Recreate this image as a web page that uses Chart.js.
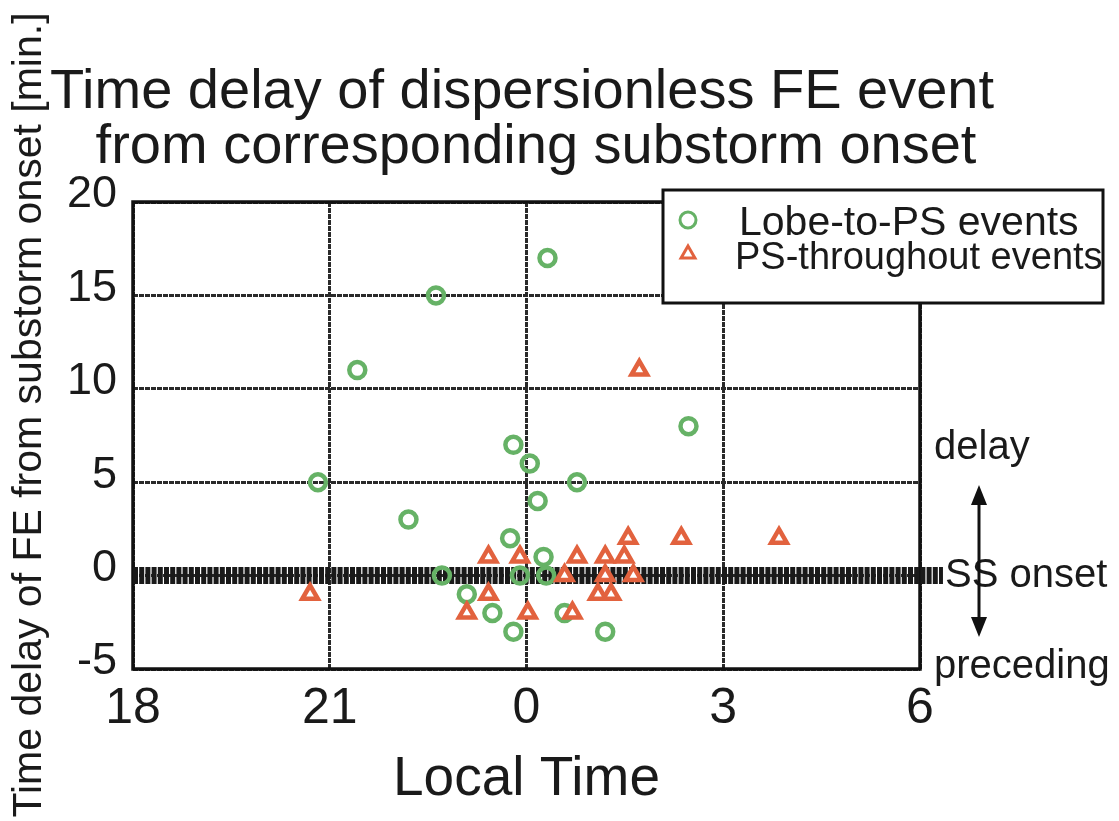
<!DOCTYPE html>
<html>
<head>
<meta charset="utf-8">
<script src="https://cdn.jsdelivr.net/npm/chart.js@4/dist/chart.umd.min.js"></script>
<style>
  html, body { margin: 0; padding: 0; background: #fff; }
  #fe { display: block; }
</style>
</head>
<body>
<canvas id="fe" width="1119" height="821"></canvas>
<script>
// local time in hours (24+ = after midnight), delay in minutes
var lobeLT    = [22.62, 21.42, 24.32, 26.47, 20.82, 22.2, 23.8, 24.05, 24.77, 24.17, 23.75, 24.26, 22.71, 23.9, 24.3, 23.09, 23.48, 24.58, 23.8, 25.2];
var lobeDelay = [15, 11, 17, 8, 5, 3, 7, 6, 5, 4, 2, 1, 0, 0, 0, -1, -2, -2, -3, -3];

var psLT    = [25.72, 20.7, 23.42, 23.9, 24.77, 25.2, 25.49, 25.55, 26.36, 27.85, 24.58, 25.2, 25.63, 23.42, 25.09, 25.29, 23.09, 24.02, 24.7];
var psDelay = [11, -1, 1, 1, 1, 1, 1, 2, 2, 2, 0, 0, 0, -1, -1, -1, -2, -2, -2];

var onsetLT = [18, 30.35];
var onsetDelay = [0, 0];

var xTicks = [18, 21, 24, 27, 30];
var yTicks = [-5, 0, 5, 10, 15, 20];

var titleLines = ['Time delay of dispersionless FE event', 'from corresponding substorm onset'];
var yTitle = 'Time delay of FE from substorm onset [min.]';
var seriesNames = ['Lobe-to-PS events', 'PS-throughout events'];

function pts(xs, ys) {
  return xs.map(function (x, i) { return { x: x, y: ys[i] }; });
}

var FONT = '"Liberation Sans", Arial, sans-serif';
var GREEN = 'rgb(102, 178, 102)';
var RED = 'rgb(226, 98, 62)';

var extras = {
  id: 'extras',
  beforeDatasetsDraw: function (chart) {
    var ctx = chart.ctx, a = chart.chartArea;
    ctx.save();
    ctx.strokeStyle = '#111';
    ctx.lineWidth = 3.5;
    ctx.strokeRect(a.left, a.top, a.right - a.left, a.bottom - a.top);
    ctx.restore();
  },
  afterDraw: function (chart) {
    var ctx = chart.ctx;
    ctx.save();
    ctx.fillStyle = '#1a1a1a';
    ctx.textBaseline = 'alphabetic';

    // title
    ctx.font = '56px ' + FONT;
    ctx.textAlign = 'center';
    ctx.fillText(titleLines[0], 522, 108);
    ctx.fillText(titleLines[1], 536, 163);

    // y axis title
    ctx.save();
    ctx.translate(30, 415);
    ctx.rotate(-Math.PI / 2);
    ctx.textBaseline = 'middle';
    ctx.font = '41px ' + FONT;
    ctx.fillText(yTitle, 0, 0);
    ctx.restore();

    // legend box
    ctx.fillStyle = '#fff';
    ctx.fillRect(663, 190, 440, 113);
    ctx.strokeStyle = '#111';
    ctx.lineWidth = 3;
    ctx.strokeRect(663, 190, 440, 113);
    var ds = chart.data.datasets;
    [0, 1].forEach(function (i) {
      var y = i === 0 ? 220 : 254;
      ctx.strokeStyle = ds[i].borderColor;
      ctx.fillStyle = '#fff';
      Chart.helpers.drawPoint(ctx, { pointStyle: ds[i].pointStyle, radius: 8, borderWidth: 5.5, rotation: 0 }, 688, y);
    });
    ctx.fillStyle = '#1a1a1a';
    ctx.textAlign = 'left';
    ctx.font = '41px ' + FONT;
    ctx.fillText(seriesNames[0], 739, 235);
    ctx.font = '38px ' + FONT;
    ctx.fillText(seriesNames[1], 735, 269);

    // side notes
    ctx.font = '40px ' + FONT;
    ctx.fillText('delay', 934, 459);
    ctx.fillText('SS onset', 945, 587);
    ctx.fillText('preceding', 934, 678);

    // double arrow
    ctx.strokeStyle = '#111';
    ctx.fillStyle = '#111';
    ctx.lineWidth = 3;
    ctx.beginPath();
    ctx.moveTo(979, 500);
    ctx.lineTo(979, 620);
    ctx.stroke();
    ctx.beginPath();
    ctx.moveTo(979, 485); ctx.lineTo(971, 505); ctx.lineTo(987, 505); ctx.closePath();
    ctx.fill();
    ctx.beginPath();
    ctx.moveTo(979, 637); ctx.lineTo(971, 617); ctx.lineTo(987, 617); ctx.closePath();
    ctx.fill();
    ctx.restore();
  }
};

new Chart(document.getElementById('fe').getContext('2d'), {
  type: 'scatter',
  data: {
    datasets: [
      {
        label: seriesNames[0],
        data: pts(lobeLT, lobeDelay),
        pointStyle: 'circle',
        pointRadius: 8,
        pointBorderWidth: 4.5,
        borderColor: GREEN,
        backgroundColor: 'rgba(255,255,255,0)',
        order: 2
      },
      {
        label: seriesNames[1],
        data: pts(psLT, psDelay),
        pointStyle: 'triangle',
        pointRadius: 9,
        pointBorderWidth: 4.5,
        borderColor: RED,
        backgroundColor: '#fff',
        order: 1
      },
      {
        label: 'SS onset',
        type: 'line',
        data: pts(onsetLT, onsetDelay),
        borderColor: '#1a1a1a',
        borderWidth: 17,
        borderDash: [5, 1.2],
        pointRadius: 0,
        clip: false,
        order: 3
      }
    ]
  },
  options: {
    responsive: false,
    animation: false,
    events: [],
    layout: { padding: { top: 202, right: 199, left: 0, bottom: 0 } },
    plugins: {
      legend: { display: false },
      tooltip: { enabled: false }
    },
    scales: {
      x: {
        type: 'linear',
        min: 18,
        max: 30,
        afterBuildTicks: function (s) { s.ticks = xTicks.map(function (v) { return { value: v }; }); },
        afterFit: function (s) { s.height = 152; },
        ticks: {
          color: '#1a1a1a',
          font: { family: FONT, size: 50 },
          padding: 10,
          maxRotation: 0,
          callback: function (v) { return v >= 24 ? v - 24 : v; }
        },
        grid: { color: '#2a2a2a', lineWidth: 3, drawTicks: false },
        border: { display: false, dash: [5, 1] },
        title: {
          display: true,
          text: 'Local Time',
          color: '#1a1a1a',
          font: { family: FONT, size: 55 },
          padding: { top: 0, bottom: 8 }
        }
      },
      y: {
        min: -5,
        max: 20,
        afterBuildTicks: function (s) { s.ticks = yTicks.map(function (v) { return { value: v }; }); },
        afterFit: function (s) { s.width = 133; },
        ticks: {
          color: '#1a1a1a',
          font: { family: FONT, size: 45 },
          padding: 16,
          labelOffset: -7
        },
        grid: { color: '#2a2a2a', lineWidth: 3, drawTicks: false },
        border: { display: false, dash: [5, 1] }
      }
    }
  },
  plugins: [extras]
});
</script>
</body>
</html>
